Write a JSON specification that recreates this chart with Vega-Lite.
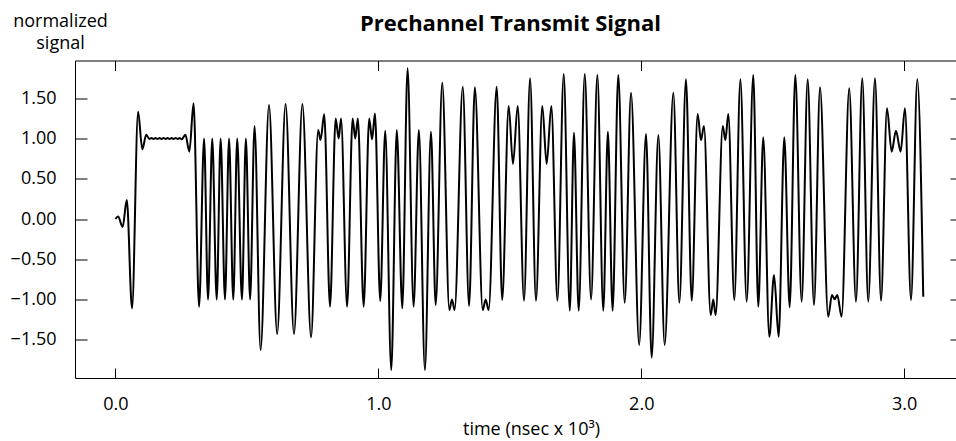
{
  "$schema": "https://vega.github.io/schema/vega-lite/v6.json",
  "autosize": "none",
  "padding": {"left": 75, "top": 60.5, "right": 0, "bottom": 63},
  "width": 887,
  "height": 317.5,
  "background": "white",
  "config": {
    "view": {"stroke": null},
    "font": "Open Sans",
    "axis": {
      "domainColor": "black", "tickColor": "black", "labelColor": "black", "titleColor": "black",
      "grid": false, "labelFont": "Open Sans", "titleFont": "Open Sans", "domainWidth": 1, "tickWidth": 1
    }
  },
  "title": {
    "text": "Prechannel Transmit Signal",
    "font": "Open Sans", "fontSize": 22, "fontWeight": "bold", "color": "black",
    "anchor": "middle", "frame": "group", "dx": -8, "baseline": "alphabetic", "offset": -40
  },
  "data": {"values": [
    {"t":0.000,"v":0.00},{"t":0.010,"v":0.03},{"t":0.027,"v":-0.10},{"t":0.043,"v":0.236},{"t":0.063,"v":-1.11},
    {"t":0.086,"v":1.333},{"t":0.102,"v":0.866},{"t":0.117,"v":1.047},{"t":0.129,"v":0.993},
    {"t":0.137,"v":1.007},{"t":0.145,"v":0.993},{"t":0.152,"v":1.007},{"t":0.160,"v":0.993},{"t":0.168,"v":1.007},
    {"t":0.175,"v":0.993},{"t":0.183,"v":1.007},{"t":0.191,"v":0.993},{"t":0.198,"v":1.007},{"t":0.206,"v":0.993},
    {"t":0.214,"v":1.007},{"t":0.221,"v":0.993},{"t":0.229,"v":1.007},{"t":0.237,"v":0.993},{"t":0.244,"v":1.007},
    {"t":0.252,"v":0.99},
    {"t":0.266,"v":1.047},{"t":0.281,"v":0.836},{"t":0.297,"v":1.437},{"t":0.318,"v":-1.089},
    {"t":0.337,"v":1.0},{"t":0.352,"v":-1.0},{"t":0.368,"v":1.0},{"t":0.385,"v":-1.0},{"t":0.400,"v":1.0},
    {"t":0.4165,"v":-1.0},{"t":0.432,"v":1.0},{"t":0.448,"v":-1.0},{"t":0.463,"v":1.0},{"t":0.481,"v":-1.0},
    {"t":0.496,"v":1.0},{"t":0.512,"v":-1.0},{"t":0.529,"v":1.155},{"t":0.552,"v":-1.627},{"t":0.584,"v":1.416},
    {"t":0.615,"v":-1.429},{"t":0.647,"v":1.429},{"t":0.679,"v":-1.429},{"t":0.711,"v":1.429},{"t":0.744,"v":-1.47},
    {"t":0.771,"v":1.106},{"t":0.780,"v":0.98},{"t":0.794,"v":1.30},{"t":0.816,"v":-1.089},
    {"t":0.8375,"v":1.25},{"t":0.849,"v":1.0},{"t":0.858,"v":1.25},{"t":0.881,"v":-1.089},
    {"t":0.902,"v":1.25},{"t":0.912,"v":1.0},{"t":0.922,"v":1.25},{"t":0.944,"v":-1.089},
    {"t":0.965,"v":1.25},{"t":0.976,"v":0.99},{"t":0.987,"v":1.31},{"t":1.007,"v":-1.02},
    {"t":1.026,"v":1.097},{"t":1.049,"v":-1.876},{"t":1.070,"v":1.106},{"t":1.091,"v":-1.11},
    {"t":1.111,"v":1.872},{"t":1.134,"v":-1.089},{"t":1.154,"v":1.106},{"t":1.177,"v":-1.876},
    {"t":1.200,"v":1.085},{"t":1.218,"v":-1.068},{"t":1.243,"v":1.693},{"t":1.270,"v":-1.13},
    {"t":1.280,"v":-1.0},{"t":1.290,"v":-1.13},{"t":1.321,"v":1.644},{"t":1.345,"v":-1.08},
    {"t":1.367,"v":1.636},{"t":1.397,"v":-1.13},{"t":1.408,"v":-1.0},{"t":1.4195,"v":-1.13},
    {"t":1.450,"v":1.644},{"t":1.471,"v":-1.006},{"t":1.4956,"v":1.404},{"t":1.512,"v":0.683},
    {"t":1.530,"v":1.404},{"t":1.554,"v":-1.015},{"t":1.577,"v":1.748},{"t":1.5995,"v":-1.015},
    {"t":1.6235,"v":1.404},{"t":1.640,"v":0.683},{"t":1.658,"v":1.404},{"t":1.681,"v":-1.015},
    {"t":1.705,"v":1.80},{"t":1.728,"v":-1.139},{"t":1.744,"v":1.072},{"t":1.762,"v":-1.139},
    {"t":1.785,"v":1.80},{"t":1.809,"v":-1.0},{"t":1.833,"v":1.789},{"t":1.8555,"v":-1.139},
    {"t":1.873,"v":1.085},{"t":1.891,"v":-1.139},{"t":1.9125,"v":1.789},{"t":1.937,"v":-1.04},
    {"t":1.961,"v":1.569},{"t":1.992,"v":-1.565},{"t":2.018,"v":1.056},{"t":2.0395,"v":-1.723},
    {"t":2.065,"v":1.043},{"t":2.089,"v":-1.565},{"t":2.122,"v":1.569},{"t":2.145,"v":-1.04},
    {"t":2.170,"v":1.735},{"t":2.192,"v":-1.015},{"t":2.2145,"v":1.304},{"t":2.227,"v":0.98},
    {"t":2.2385,"v":1.155},{"t":2.264,"v":-1.193},{"t":2.274,"v":-1.0},{"t":2.283,"v":-1.193},
    {"t":2.310,"v":1.155},{"t":2.320,"v":0.98},{"t":2.331,"v":1.304},{"t":2.354,"v":-1.006},
    {"t":2.377,"v":1.735},{"t":2.401,"v":-1.027},{"t":2.426,"v":1.789},{"t":2.445,"v":-1.089},
    {"t":2.464,"v":1.015},{"t":2.487,"v":-1.462},{"t":2.505,"v":-0.696},{"t":2.5226,"v":-1.462},
    {"t":2.544,"v":1.015},{"t":2.5645,"v":-1.097},{"t":2.586,"v":1.789},{"t":2.610,"v":-1.027},
    {"t":2.633,"v":1.735},{"t":2.657,"v":-1.068},{"t":2.680,"v":1.636},{"t":2.711,"v":-1.213},
    {"t":2.7254,"v":-0.944},{"t":2.7356,"v":-0.998},{"t":2.7456,"v":-0.944},{"t":2.762,"v":-1.213},
    {"t":2.791,"v":1.623},{"t":2.8167,"v":-1.027},{"t":2.8406,"v":1.748},{"t":2.8634,"v":-1.027},
    {"t":2.889,"v":1.748},{"t":2.912,"v":-1.015},{"t":2.9346,"v":1.375},{"t":2.9525,"v":0.836},
    {"t":2.9688,"v":1.097},{"t":2.9866,"v":0.836},{"t":3.003,"v":1.375},{"t":3.026,"v":-1.006},
    {"t":3.050,"v":1.735},{"t":3.0726,"v":-0.965}
  ]},
  "layer": [
    {
      "mark": {"type": "line", "color": "black", "strokeWidth": 2, "interpolate": "monotone"},
      "encoding": {
        "x": {"field": "t", "type": "quantitative",
          "scale": {"domain": [-0.154, 3.22], "nice": false, "zero": false},
          "axis": {"orient": "bottom", "values": [0, 1, 2, 3], "format": ".1f", "tickSize": -10,
            "labelPadding": 27, "labelFontSize": 18, "labelBaseline": "top",
            "title": "time (nsec x 10³)", "titleFontSize": 18, "titleFontWeight": "normal",
            "titleAlign": "center", "titleBaseline": "alphabetic", "titleX": 456, "titleY": 56}},
        "y": {"field": "v", "type": "quantitative",
          "scale": {"domain": [-1.975, 1.969], "nice": false, "zero": false},
          "axis": {"orient": "left", "values": [-1.5, -1, -0.5, 0, 0.5, 1, 1.5], "format": ".2f", "tickSize": -12,
            "labelPadding": 31, "labelFontSize": 18, "labelBaseline": "middle",
            "title": ["normalized", "signal"], "titleFontSize": 18, "titleFontWeight": "normal",
            "titleAngle": 0, "titleAlign": "center", "titleBaseline": "top", "titleLineHeight": 22,
            "titleX": -15, "titleY": -48}}
      }
    },
    {
      "mark": {"type": "line", "strokeOpacity": 0, "interpolate": "monotone"},
      "encoding": {
        "x": {"field": "t", "type": "quantitative",
          "axis": {"orient": "top", "values": [0, 1, 2, 3], "tickSize": -10, "labels": false, "title": null}},
        "y": {"field": "v", "type": "quantitative",
          "axis": {"orient": "right", "values": [-1.5, -1, -0.5, 0, 0.5, 1, 1.5], "tickSize": -12, "labels": false, "title": null}}
      }
    }
  ],
  "resolve": {"axis": {"x": "independent", "y": "independent"}}
}
